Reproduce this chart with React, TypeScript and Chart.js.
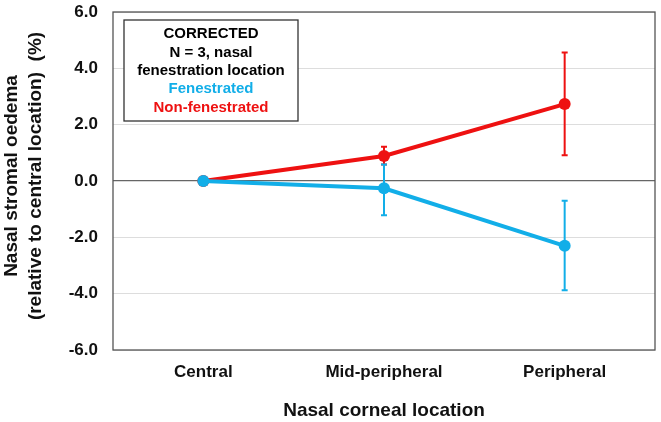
import React, { useEffect, useRef } from 'react';
import { Chart, registerables } from 'chart.js';

Chart.register(...registerables);

const categories = ['Central', 'Mid-peripheral', 'Peripheral'];
const fenestrated = [0, -0.26, -2.3];
const fenestratedErrLow = [0, 0.96, 1.58];
const fenestratedErrHigh = [0, 0.85, 1.6];
const nonFenestrated = [0, 0.89, 2.73];
const nonFenestratedErrLow = [0, 0.3, 1.82];
const nonFenestratedErrHigh = [0, 0.33, 1.83];
const seriesNames = ['Fenestrated', 'Non-fenestrated'];
const legendHeader = ['CORRECTED', 'N = 3, nasal', 'fenestration location'];
const yTitle = ['Nasal stromal oedema', '(relative to central location)  (%)'];
const xTitle = 'Nasal corneal location';
const yMin = -6;
const yMax = 6;
const yStep = 2;

const BLUE = '#12aee8';
const RED = '#ee1111';
const FONT = '"Liberation Sans", Arial, sans-serif';

const errorBarPlugin = {
  id: 'errorBars',
  beforeDatasetsDraw(chart: any) {
    const ctx = chart.ctx;
    const yScale = chart.scales.y;
    const errs = [
      [fenestratedErrLow, fenestratedErrHigh],
      [nonFenestratedErrLow, nonFenestratedErrHigh],
    ];
    ctx.save();
    [1, 0].forEach((di) => {
      const meta = chart.getDatasetMeta(di);
      const ds = chart.data.datasets[di];
      const [lo, hi] = errs[di];
      meta.data.forEach((pt: any, i: number) => {
        if (!lo[i] && !hi[i]) return;
        const v = ds.data[i];
        const yTop = yScale.getPixelForValue(v + hi[i]);
        const yBot = yScale.getPixelForValue(v - lo[i]);
        ctx.strokeStyle = ds.borderColor;
        ctx.lineWidth = 2;
        ctx.beginPath();
        ctx.moveTo(pt.x, yTop);
        ctx.lineTo(pt.x, yBot);
        ctx.moveTo(pt.x - 3, yTop);
        ctx.lineTo(pt.x + 3, yTop);
        ctx.moveTo(pt.x - 3, yBot);
        ctx.lineTo(pt.x + 3, yBot);
        ctx.stroke();
      });
    });
    ctx.restore();
  },
};

const frameAndLegendPlugin = {
  id: 'frameLegend',
  afterDraw(chart: any) {
    const ctx = chart.ctx;
    const a = chart.chartArea;
    ctx.save();
    ctx.strokeStyle = '#555555';
    ctx.lineWidth = 1.3;
    ctx.strokeRect(a.left, a.top, a.right - a.left, a.bottom - a.top);

    const bx = a.left + 11;
    const by = a.top + 8;
    const bw = 174;
    const bh = 101;
    ctx.fillStyle = '#ffffff';
    ctx.fillRect(bx, by, bw, bh);
    ctx.strokeStyle = '#333333';
    ctx.lineWidth = 1.3;
    ctx.strokeRect(bx, by, bw, bh);

    ctx.font = `bold 15px ${FONT}`;
    ctx.textAlign = 'center';
    ctx.textBaseline = 'middle';
    const cx = bx + bw / 2;
    const lines = [...legendHeader, ...seriesNames];
    const colors = ['#000000', '#000000', '#000000', BLUE, RED];
    lines.forEach((t, i) => {
      ctx.fillStyle = colors[i];
      ctx.fillText(t, cx, by + 14 + i * 18.4);
    });

    // vertical axis title
    const cy = (a.top + a.bottom) / 2 - 5;
    ctx.font = `bold 19px ${FONT}`;
    ctx.fillStyle = '#111111';
    yTitle.forEach((t, i) => {
      ctx.save();
      ctx.translate(12 + i * 24, cy);
      ctx.rotate(-Math.PI / 2);
      ctx.fillText(t, 0, 0);
      ctx.restore();
    });
    ctx.restore();
  },
};

export default function App() {
  const ref = useRef<HTMLCanvasElement>(null);
  useEffect(() => {
    if (!ref.current) return;
    const chart = new Chart(ref.current, {
      type: 'line',
      data: {
        labels: categories,
        datasets: [
          {
            label: seriesNames[0],
            data: fenestrated,
            borderColor: BLUE,
            backgroundColor: BLUE,
            borderWidth: 4,
            pointRadius: 6,
            pointBorderWidth: 0,
            pointBackgroundColor: BLUE,
            tension: 0,
          },
          {
            label: seriesNames[1],
            data: nonFenestrated,
            borderColor: RED,
            backgroundColor: RED,
            borderWidth: 4,
            pointRadius: 6,
            pointBorderWidth: 0,
            pointBackgroundColor: RED,
            tension: 0,
          },
        ],
      },
      options: {
        animation: false,
        responsive: false,
        devicePixelRatio: 1,
        layout: { padding: { top: 12, right: 5, left: 0, bottom: 0 } },
        plugins: {
          legend: { display: false },
          tooltip: { enabled: false },
        },
        scales: {
          x: {
            offset: true,
            grid: { display: false, drawTicks: false },
            border: { display: false },
            ticks: {
              color: '#111111',
              font: { family: FONT, size: 17, weight: 'bold' },
              padding: 12,
            },
            title: {
              display: true,
              text: xTitle,
              color: '#111111',
              font: { family: FONT, size: 19, weight: 'bold' },
              padding: { top: 0, bottom: 0 },
            },
            afterFit(scale: any) {
              scale.height = 72;
              scale.paddingLeft = 0;
              scale.paddingRight = 0;
            },
          },
          y: {
            min: yMin,
            max: yMax,
            grid: {
              drawTicks: false,
              color: (c: any) => (c.tick && c.tick.value === 0 ? '#666666' : '#dddddd'),
              lineWidth: (c: any) => (c.tick && c.tick.value === 0 ? 1.3 : 1),
            },
            border: { display: false },
            ticks: {
              stepSize: yStep,
              color: '#111111',
              font: { family: FONT, size: 17, weight: 'bold' },
              padding: 15,
              callback: (v: any) => Number(v).toFixed(1),
            },
            title: { display: false },
            afterFit(scale: any) {
              scale.width = 113;
              scale.paddingTop = 0;
              scale.paddingBottom = 0;
            },
          },
        },
      },
      plugins: [errorBarPlugin, frameAndLegendPlugin],
    } as any);
    return () => chart.destroy();
  }, []);
  return (
    <div style={{ position: 'fixed', left: 0, top: 0, width: 661, height: 422, background: '#fff' }}>
      <canvas ref={ref} width={661} height={422} />
    </div>
  );
}
